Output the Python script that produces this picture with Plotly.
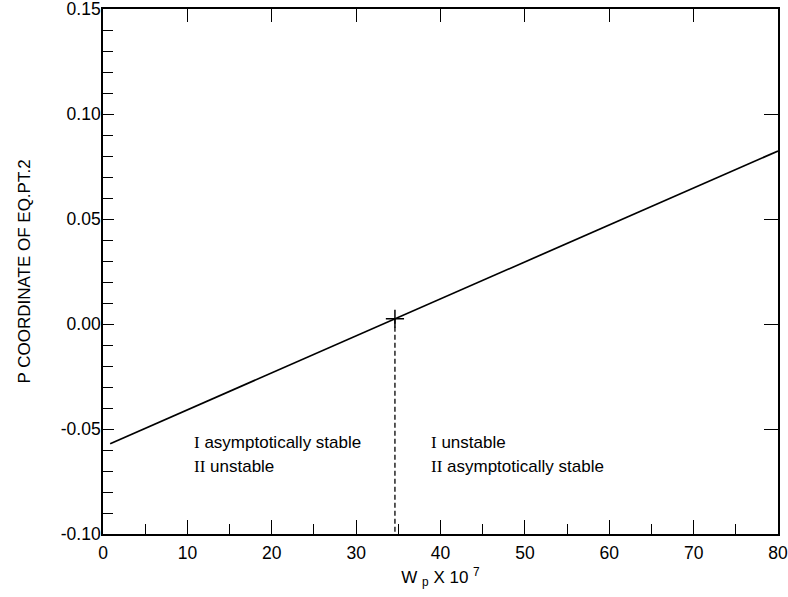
import plotly.graph_objects as go

# Data
line_x = [0.85, 34.6, 80]
line_y = [-0.057, 0.0025, 0.0824]
cross_x = [34.6]
cross_y = [0.0025]
dash_x = [34.6, 34.6]
dash_y = [0.0025, -0.10]

x_ticks = [0, 10, 20, 30, 40, 50, 60, 70, 80]
y_ticks = [-0.10, -0.05, 0.00, 0.05, 0.10, 0.15]
y_tick_labels = ["-0.10", "-0.05", "0.00", "0.05", "0.10", "0.15"]

numerals = ["I", "II"]
left_text = ["asymptotically stable", "unstable"]
right_text = ["unstable", "asymptotically stable"]
text_y = [-0.0565, -0.068]
left_x = 10.5
right_x = 38.6

FONT = "Liberation Sans, Arial, sans-serif"
SERIF = "Liberation Serif"

fig = go.Figure()
fig.add_trace(go.Scatter(x=line_x, y=line_y, mode="lines",
                         line=dict(color="black", width=1.7), showlegend=False))
fig.add_trace(go.Scatter(x=dash_x, y=dash_y, mode="lines",
                         line=dict(color="black", width=1.3, dash="5px,3px"), showlegend=False))
fig.add_trace(go.Scatter(x=cross_x, y=cross_y, mode="markers",
                         marker=dict(symbol="cross-thin", size=13,
                                     line=dict(color="black", width=1.5)),
                         showlegend=False))

def label(num, txt):
    return f"<span style=\"font-family:'{SERIF}'\">{num}</span> {txt}"

for i in range(2):
    fig.add_annotation(x=left_x, y=text_y[i], text=label(numerals[i], left_text[i]),
                       showarrow=False, xanchor="left",
                       font=dict(family=FONT, size=17, color="black"))
    fig.add_annotation(x=right_x, y=text_y[i], text=label(numerals[i], right_text[i]),
                       showarrow=False, xanchor="left",
                       font=dict(family=FONT, size=17, color="black"))

fig.update_layout(
    width=788, height=597,
    margin=dict(l=103, r=10, t=9, b=63),
    plot_bgcolor="white", paper_bgcolor="white",
    font=dict(family=FONT, size=17.5, color="black"),
    xaxis=dict(range=[0, 80], tickvals=x_ticks, ticks="inside", ticklen=14,
               tickwidth=1.3, tickcolor="black", showline=True, linecolor="black",
               linewidth=1.7, showgrid=False, zeroline=False, automargin=False,
               ticklabeloverflow="allow", ticklabelstandoff=2,
               minor=dict(dtick=5, ticks="inside", ticklen=10, tickwidth=1.2,
                          tickcolor="black", showgrid=False),
               title=dict(text="W <sub>p</sub> X 10 <sup>7</sup>", standoff=9,
                          font=dict(size=17))),
    yaxis=dict(range=[-0.10, 0.15], tickvals=y_ticks, ticktext=y_tick_labels,
               ticks="inside", ticklen=11, tickwidth=1.3, tickcolor="black",
               showline=True, linecolor="black", linewidth=1.7, showgrid=False,
               zeroline=False, automargin=False, ticklabeloverflow="allow",
               ticklabelstandoff=-3,
               minor=dict(dtick=0.01, tick0=0, ticks="inside", ticklen=10, tickwidth=1.2,
                          tickcolor="black", showgrid=False),
               title=dict(text="P COORDINATE OF EQ.PT.2", standoff=26,
                          font=dict(size=17))),
    xaxis2=dict(range=[0, 80], overlaying="x", side="top", tickvals=x_ticks,
                ticks="inside", ticklen=13, tickwidth=1.3, tickcolor="black",
                showticklabels=False, showline=True, linecolor="black", linewidth=1.7,
                showgrid=False, zeroline=False, automargin=False),
    yaxis2=dict(range=[-0.10, 0.15], overlaying="y", side="right", tickvals=y_ticks,
                ticks="inside", ticklen=14, tickwidth=1.3, tickcolor="black",
                showticklabels=False, showline=True, linecolor="black", linewidth=1.7,
                showgrid=False, zeroline=False, automargin=False),
)
# empty trace to activate the mirror axes
fig.add_trace(go.Scatter(x=[None], y=[None], xaxis="x2", yaxis="y2", showlegend=False))

fig.write_html("out.html", config={"displayModeBar": False},
               post_script="document.body.style.margin='0';document.body.style.overflow='hidden';")
